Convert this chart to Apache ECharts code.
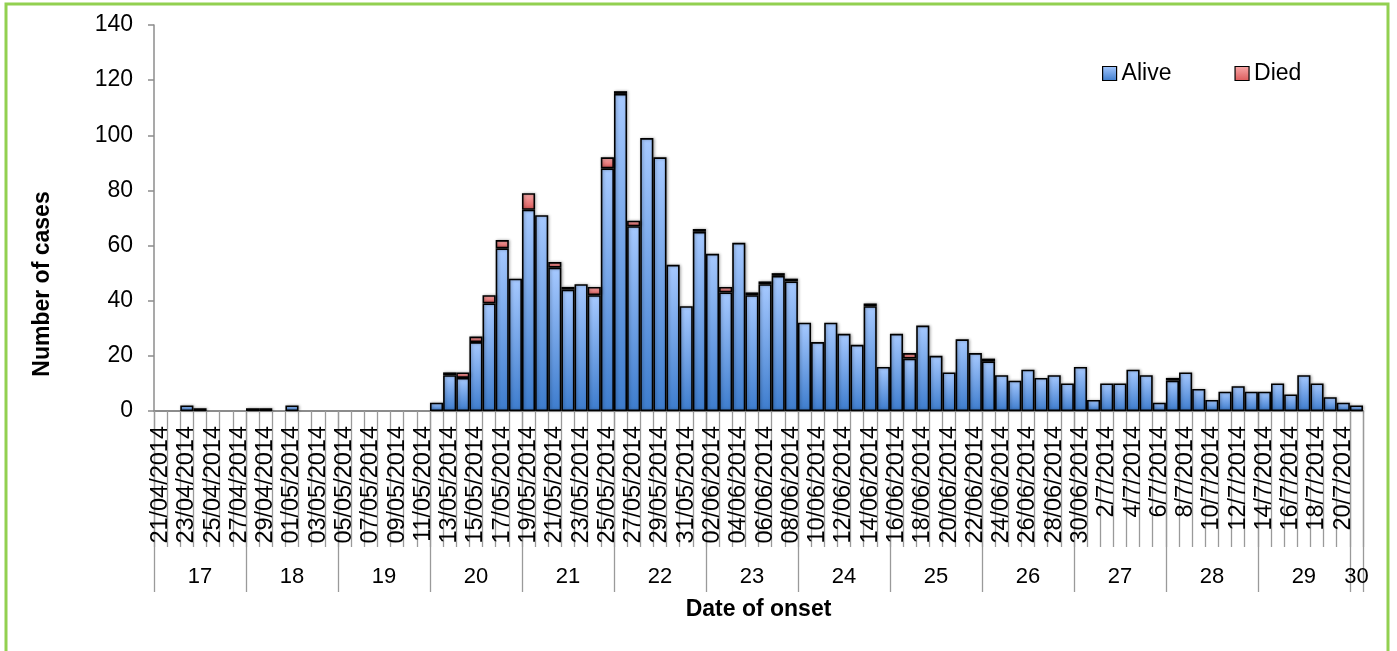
<!DOCTYPE html>
<html>
<head>
<meta charset="utf-8">
<script src="https://cdn.jsdelivr.net/npm/echarts@6/dist/echarts.min.js"></script>
<style>
  html, body { margin: 0; padding: 0; background: #ffffff; }
  #chart { width: 1397px; height: 651px; }
</style>
</head>
<body>
<div id="chart"></div>
<script>
// Date of onset, one category per day
const dates = [
  '21/04/2014','22/04/2014','23/04/2014','24/04/2014','25/04/2014','26/04/2014','27/04/2014',
  '28/04/2014','29/04/2014','30/04/2014','01/05/2014','02/05/2014','03/05/2014','04/05/2014',
  '05/05/2014','06/05/2014','07/05/2014','08/05/2014','09/05/2014','10/05/2014','11/05/2014',
  '12/05/2014','13/05/2014','14/05/2014','15/05/2014','16/05/2014','17/05/2014','18/05/2014',
  '19/05/2014','20/05/2014','21/05/2014','22/05/2014','23/05/2014','24/05/2014','25/05/2014',
  '26/05/2014','27/05/2014','28/05/2014','29/05/2014','30/05/2014','31/05/2014','01/06/2014',
  '02/06/2014','03/06/2014','04/06/2014','05/06/2014','06/06/2014','07/06/2014','08/06/2014',
  '09/06/2014','10/06/2014','11/06/2014','12/06/2014','13/06/2014','14/06/2014','15/06/2014',
  '16/06/2014','17/06/2014','18/06/2014','19/06/2014','20/06/2014','21/06/2014','22/06/2014',
  '23/06/2014','24/06/2014','25/06/2014','26/06/2014','27/06/2014','28/06/2014','29/06/2014',
  '30/06/2014','1/7/2014','2/7/2014','3/7/2014','4/7/2014','5/7/2014','6/7/2014',
  '7/7/2014','8/7/2014','9/7/2014','10/7/2014','11/7/2014','12/7/2014','13/7/2014',
  '14/7/2014','15/7/2014','16/7/2014','17/7/2014','18/7/2014','19/7/2014','20/7/2014',
  '21/7/2014'
];

// Cases by outcome for each day
const alive = [
  0, 0, 2, 1, 0, 0, 0,
  1, 1, 0, 2, 0, 0, 0,
  0, 0, 0, 0, 0, 0, 0,
  3, 13, 12, 25, 39, 59, 48,
  73, 71, 52, 44, 46, 42, 88,
  115, 67, 99, 92, 53, 38, 65,
  57, 43, 61, 42, 46, 49, 47,
  32, 25, 32, 28, 24, 38, 16,
  28, 19, 31, 20, 14, 26, 21,
  18, 13, 11, 15, 12, 13, 10,
  16, 4, 10, 10, 15, 13, 3,
  11, 14, 8, 4, 7, 9, 7,
  7, 10, 6, 13, 10, 5, 3,
  2
];
const died = [
  0, 0, 0, 0, 0, 0, 0,
  0, 0, 0, 0, 0, 0, 0,
  0, 0, 0, 0, 0, 0, 0,
  0, 1, 2, 2, 3, 3, 0,
  6, 0, 2, 1, 0, 3, 4,
  1, 2, 0, 0, 0, 0, 1,
  0, 2, 0, 1, 1, 1, 1,
  0, 0, 0, 0, 0, 1, 0,
  0, 2, 0, 0, 0, 0, 0,
  1, 0, 0, 0, 0, 0, 0,
  0, 0, 0, 0, 0, 0, 0,
  1, 0, 0, 0, 0, 0, 0,
  0, 0, 0, 0, 0, 0, 0,
  0
];

// Epidemiological weeks and the number of days of each shown on the axis
const weeks = ['17','18','19','20','21','22','23','24','25','26','27','28','29','30'];
const daysInWeek = [7, 7, 7, 7, 7, 7, 7, 7, 7, 7, 7, 7, 7, 1];

// Value axis ticks
const yMin = 0, yMax = 140, yStep = 20;

// Week row: label sits on the middle day of each week, ticks at week starts
const weekRow = dates.map(() => '');
const weekStarts = new Set();
let start = 0;
weeks.forEach((w, k) => {
  weekStarts.add(start);
  weekRow[start + Math.floor((daysInWeek[k] - 1) / 2)] = w;
  start += daysInWeek[k];
});

const FONT = '"Liberation Sans", Arial, sans-serif';
const gridColor = '#8c8c8c';

const blueFill = new echarts.graphic.LinearGradient(0, 0, 0, 1, [
  { offset: 0, color: '#a6c9ff' },
  { offset: 1, color: '#3d7ccd' }
]);
const redFill = new echarts.graphic.LinearGradient(0, 0, 0, 1, [
  { offset: 0, color: '#f9aaaa' },
  { offset: 1, color: '#dc5a5a' }
]);

const barStyle = (fill) => ({
  color: fill,
  borderColor: '#000000',
  borderWidth: 1.6,
  shadowBlur: 3,
  shadowColor: 'rgba(0,0,0,0.3)',
  shadowOffsetX: 1,
  shadowOffsetY: 0
});

const chart = echarts.init(document.getElementById('chart'), null, { renderer: 'canvas' });

chart.setOption({
  animation: false,
  backgroundColor: '#ffffff',
  textStyle: { fontFamily: FONT, color: '#000000' },
  grid: {
    left: 154, right: 34, top: 25, bottom: 240,
    containLabel: false,
    outerBoundsMode: 'none'
  },
  legend: {
    data: ['Alive', 'Died'],
    left: 1102,
    top: 62,
    padding: 0,
    icon: 'rect',
    itemWidth: 14,
    itemHeight: 14,
    itemGap: 63,
    itemStyle: { borderWidth: 1.2, borderColor: '#000000', shadowBlur: 0 },
    textStyle: { fontFamily: FONT, fontSize: 23, color: '#000000' }
  },
  xAxis: [
    {
      type: 'category',
      data: dates,
      position: 'bottom',
      boundaryGap: true,
      axisLine: { show: true, lineStyle: { color: gridColor, width: 2.2 } },
      axisTick: { show: true, interval: 0, length: 136, lineStyle: { color: '#9a9a9a', width: 1.3 } },
      axisLabel: {
        interval: 1,
        rotate: 90,
        margin: 15,
        fontFamily: FONT,
        fontSize: 23.5,
        color: '#000000'
      },
      splitLine: { show: false },
      name: 'Date of onset',
      nameLocation: 'middle',
      nameGap: 187,
      nameTextStyle: { fontFamily: FONT, fontSize: 23, fontWeight: 'bold', color: '#000000' }
    },
    {
      type: 'category',
      data: weekRow,
      position: 'bottom',
      boundaryGap: true,
      axisLine: { show: false },
      axisTick: {
        show: true,
        interval: (i) => weekStarts.has(i),
        length: 181,
        lineStyle: { color: '#9a9a9a', width: 1.3 }
      },
      axisLabel: {
        interval: (i, v) => v !== '',
        margin: 155,
        fontFamily: FONT,
        fontSize: 22,
        color: '#000000'
      },
      splitLine: { show: false }
    }
  ],
  yAxis: {
    type: 'value',
    min: yMin,
    max: yMax,
    interval: yStep,
    axisLine: { show: true, lineStyle: { color: gridColor, width: 1.5 } },
    axisTick: { show: true, inside: false, length: 6, lineStyle: { color: gridColor, width: 1.5 } },
    axisLabel: { margin: 21, fontFamily: FONT, fontSize: 23, color: '#000000' },
    splitLine: { show: false }
  },
  series: [
    {
      name: 'Alive',
      type: 'bar',
      stack: 'cases',
      xAxisIndex: 0,
      barCategoryGap: '0%',
      itemStyle: barStyle(blueFill),
      data: alive.map(v => (v === 0 ? '-' : v))
    },
    {
      name: 'Died',
      type: 'bar',
      stack: 'cases',
      xAxisIndex: 0,
      barCategoryGap: '0%',
      itemStyle: barStyle(redFill),
      data: died.map(v => (v === 0 ? '-' : v))
    }
  ],
  graphic: [
    {
      type: 'rect',
      silent: true,
      shape: { x: 6, y: 4, width: 1382, height: 700 },
      style: { fill: 'none', stroke: '#92d050', lineWidth: 3 }
    },
    {
      type: 'text',
      silent: true,
      x: 43,
      y: 284,
      rotation: Math.PI / 2,
      style: {
        text: 'Number of cases',
        font: 'bold 23px ' + FONT,
        fill: '#000000',
        align: 'center',
        verticalAlign: 'middle'
      }
    }
  ]
});
</script>
</body>
</html>
